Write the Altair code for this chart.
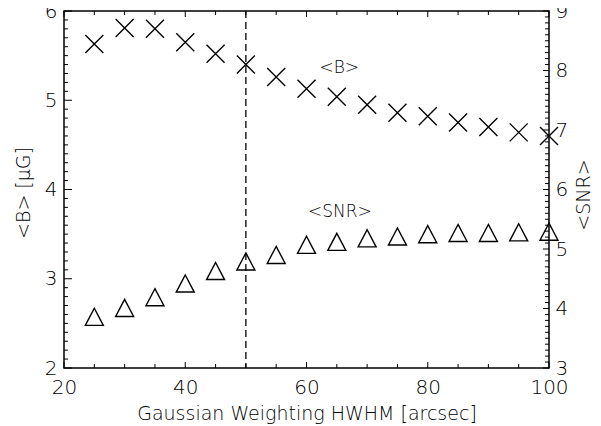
import altair as alt
import pandas as pd

# ---- data ----
hwhm = [25, 30, 35, 40, 45, 50, 55, 60, 65, 70, 75, 80, 85, 90, 95, 100]
b_mean = [5.63, 5.81, 5.80, 5.65, 5.52, 5.40, 5.26, 5.13, 5.04, 4.95, 4.86, 4.82, 4.75, 4.70, 4.64, 4.60]
snr_mean = [3.86, 4.01, 4.19, 4.42, 4.63, 4.79, 4.90, 5.07, 5.12, 5.18, 5.21, 5.25, 5.27, 5.27, 5.28, 5.29]
chosen_hwhm = [50]

x_major = [20, 40, 60, 80, 100]
x_minor = [25, 30, 35, 45, 50, 55, 65, 70, 75, 85, 90, 95]
b_major = [2, 3, 4, 5, 6]
b_minor = [round(2 + i * 0.1, 1) for i in range(41) if i % 10 != 0]
snr_major = [3, 4, 5, 6, 7, 8, 9]
snr_minor = [round(3 + i * 0.1, 1) for i in range(61) if i % 10 != 0]

W, H = 485, 357
FONT = "DejaVu Sans"
LW = 200

df = pd.DataFrame({"hwhm": hwhm, "b": b_mean, "snr": snr_mean})

xs = alt.Scale(domain=[20, 100], nice=False, zero=False)
bs = alt.Scale(domain=[2, 6], nice=False, zero=False)
ss = alt.Scale(domain=[3, 9], nice=False, zero=False)

X_PATH = "M-1,-1L1,1M1,-1L-1,1"
TRI_PATH = "M0,-0.95L1,0.95L-1,0.95Z"

x_axis = alt.Axis(
    values=x_major, ticks=False, domain=False, grid=False, labelFontSize=20, labelFlush=False,
    labelFont=FONT, labelFontWeight=LW, labelColor="black", labelPadding=9,
    title="Gaussian Weighting HWHM [arcsec]",
    titleFont=FONT, titleFontSize=19, titleFontWeight=LW, titleColor="black",
    titleX=W / 2, titleY=45, titleBaseline="middle", titleAlign="center",
)
b_axis = alt.Axis(
    orient="left", values=b_major, ticks=False, domain=False, grid=False, labelFontSize=20,
    labelFont=FONT, labelFontWeight=LW, labelColor="black", labelPadding=7, title="<B> [μG]",
    titleFont=FONT, titleFontSize=19, titleFontWeight=LW, titleColor="black",
    titleAngle=270, titleX=-41, titleY=H / 2 + 3, titleBaseline="middle", titleAlign="center")
s_axis = alt.Axis(
    orient="right", values=snr_major, ticks=False, domain=False, grid=False, labelFontSize=20,
    labelFont=FONT, labelFontWeight=LW, labelColor="black", labelPadding=6, title="<SNR>",
    titleFont=FONT, titleFontSize=19, titleFontWeight=LW, titleColor="black",
    titleAngle=270, titleX=34, titleY=H / 2 + 5, titleBaseline="middle", titleAlign="center")


def X(field):
    return alt.X(field, scale=xs, axis=x_axis)


def YB(field):
    return alt.Y(field, scale=bs, axis=b_axis)


def YS(field):
    return alt.Y(field, scale=ss, axis=s_axis)


def tick_data(values):
    return pd.DataFrame({"v": values})


crosses = alt.Chart(df).mark_point(shape=X_PATH, size=324, filled=False, color="black",
                                   strokeWidth=1.4, opacity=1).encode(x=X("hwhm:Q"), y=YB("b:Q"))

rule = dict(color="black", strokeWidth=1)
bottom_major = alt.Chart(tick_data(x_major)).mark_rule(**rule).encode(x=X("v:Q"), y=alt.value(H), y2=alt.value(H - 6))
bottom_minor = alt.Chart(tick_data(x_minor)).mark_rule(**rule).encode(x=X("v:Q"), y=alt.value(H), y2=alt.value(H - 4))
top_major = alt.Chart(tick_data(x_major)).mark_rule(**rule).encode(x=X("v:Q"), y=alt.value(0), y2=alt.value(6))
top_minor = alt.Chart(tick_data(x_minor)).mark_rule(**rule).encode(x=X("v:Q"), y=alt.value(0), y2=alt.value(4))
left_major = alt.Chart(tick_data(b_major)).mark_rule(**rule).encode(y=YB("v:Q"), x=alt.value(0), x2=alt.value(8))
left_minor = alt.Chart(tick_data(b_minor)).mark_rule(**rule).encode(y=YB("v:Q"), x=alt.value(0), x2=alt.value(4))

vline = alt.Chart(tick_data(chosen_hwhm)).mark_rule(color="black", strokeWidth=1.3, strokeDash=[7, 4]).encode(
    x=X("v:Q"))

b_label = alt.Chart(pd.DataFrame({"t": ["<B>"]})).mark_text(
    font=FONT, fontSize=17, fontWeight=LW, color="black", align="center", baseline="middle").encode(
    x=alt.datum(65.4, scale=xs, axis=x_axis), y=alt.datum(5.36, scale=bs, axis=b_axis), text="t:N")

left = alt.layer(crosses, bottom_major, bottom_minor, top_major, top_minor, left_major, left_minor, vline, b_label)

triangles = alt.Chart(df).mark_point(shape=TRI_PATH, size=324, filled=False, color="black",
                                     strokeWidth=1.4, opacity=1).encode(x=X("hwhm:Q"), y=YS("snr:Q"))
right_major = alt.Chart(tick_data(snr_major)).mark_rule(**rule).encode(y=YS("v:Q"), x=alt.value(W), x2=alt.value(W - 6))
right_minor = alt.Chart(tick_data(snr_minor)).mark_rule(**rule).encode(y=YS("v:Q"), x=alt.value(W), x2=alt.value(W - 4))
snr_label = alt.Chart(pd.DataFrame({"t": ["<SNR>"]})).mark_text(
    font=FONT, fontSize=17, fontWeight=LW, color="black", align="center", baseline="middle").encode(
    x=alt.datum(65.5, scale=xs, axis=x_axis), y=alt.datum(5.63, scale=ss, axis=s_axis), text="t:N")

right = alt.layer(triangles, right_major, right_minor, snr_label)

chart = alt.layer(left, right).resolve_scale(y="independent").properties(
    width=W, height=H,
    autosize=alt.AutoSizeParams(type="none"),
    padding={"left": 56, "top": 3, "right": 44, "bottom": 56},
    background="white",
).configure_view(stroke="black", strokeWidth=1.5)

chart.save("out.html", embed_options={"renderer": "svg", "actions": False})
